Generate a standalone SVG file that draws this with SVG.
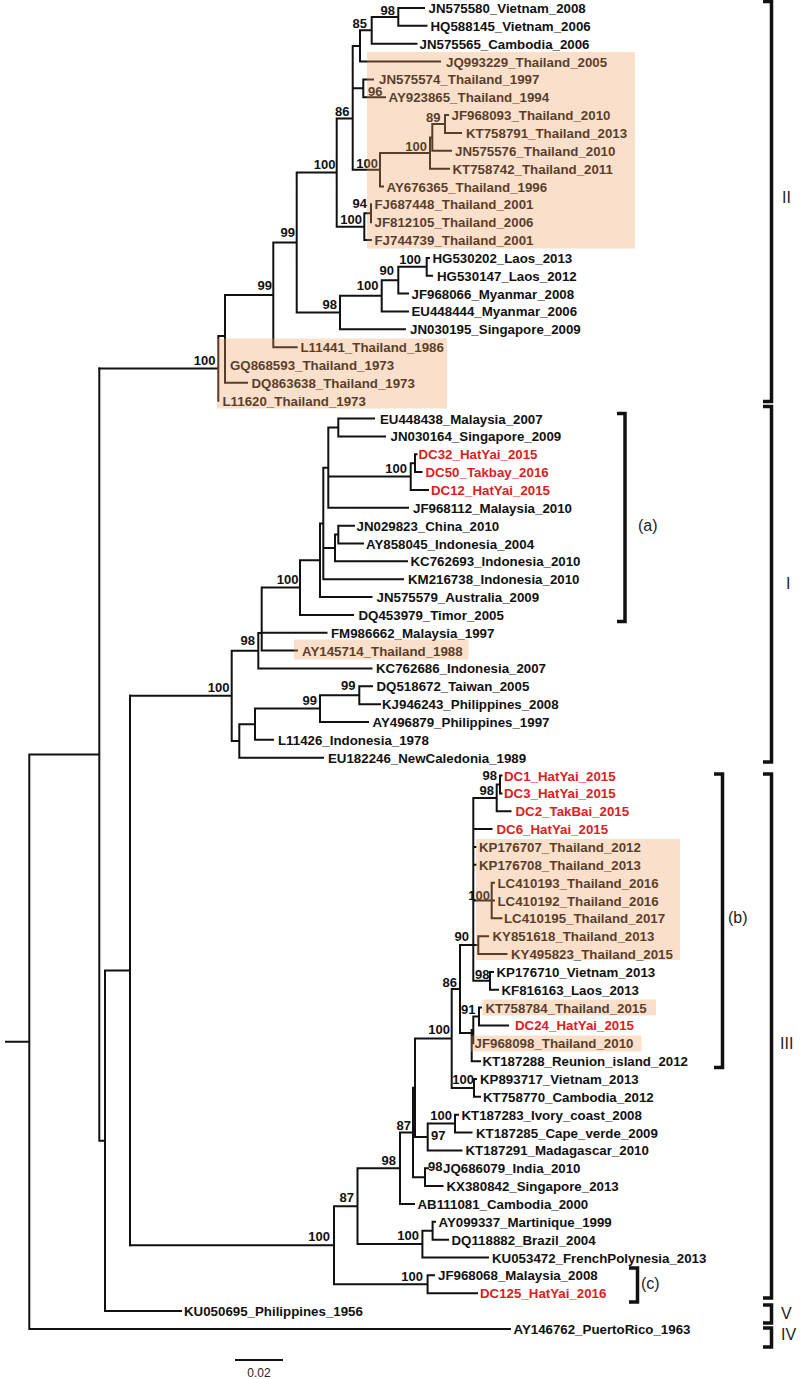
<svg xmlns="http://www.w3.org/2000/svg" width="800" height="1379" viewBox="0 0 800 1379">
<style>
.t{font-family:"Liberation Sans",Arial,sans-serif;font-size:13.3px;font-weight:bold;fill:#111}
.r{fill:#dd2020}
.b{font-family:"Liberation Sans",Arial,sans-serif;font-size:13px;font-weight:bold;fill:#111;text-anchor:end}
.s{text-anchor:start}
.e{fill:none;stroke:#111;stroke-width:2;stroke-linecap:square}
.br{fill:none;stroke:#111;stroke-width:3.5}
.lab{font-family:"Liberation Sans",Arial,sans-serif;font-size:16px;fill:#222}
.hl{fill:#f09a5e;opacity:0.32}
</style>
<rect width="800" height="1379" fill="#fff"/>
<g id="connectors" class="e">
<path d="M398.3 8V25.85M398.3 8H424M398.3 25.85H426.5M371.7 16.9V43.7M371.7 16.9H398.3M371.7 43.7H416.5M360 30.3V61.55M360 30.3H371.7M360 61.55H440M363.3 79.4V97.25M363.3 79.4H373M363.3 97.25H385M352.7 45.9V169.75M352.7 45.9H360M352.7 88.3H363.3M352.7 169.75H380M445 115.1V132.95M445 115.1H448M445 132.95H461M432.3 124V150.8M432.3 124H445M432.3 150.8H451M430 137.4V168.65M430 137.4H432.3M430 168.65H449M380 153V186.5M380 153H430M380 186.5H383M371 204.35V222.2M364.3 213.3V240.05M364.3 213.3H371M364.3 240.05H371M336.7 118.5V226.7M336.7 118.5H352.7M336.7 226.7H364.3M426.7 257.9V275.75M426.7 257.9H429M426.7 275.75H432M398.3 266.8V293.6M398.3 266.8H426.7M398.3 293.6H408M381.7 280.2V311.45M381.7 280.2H398.3M381.7 311.45H408M340 295.8V329.3M340 295.8H381.7M340 329.3H405M296.7 172.6V312.6M296.7 172.6H336.7M296.7 312.6H340M273.3 242.6V347.15M273.3 242.6H296.7M273.3 347.15H296.7M225 294.9V382.85M225 294.9H273.3M225 382.85H247M218.3 336V400.7M218.3 336H225M99.3 368.4H218.3"/>
<path d="M338.3 418.55V436.4M338.3 418.55H374M338.3 436.4H385M415 454.25V472.1M415 454.25H416.5M415 472.1H421.5M410.7 463.2V489.95M410.7 463.2H415M410.7 489.95H428M328.3 427.5V507.8M328.3 427.5H338.3M328.3 476.6H410.7M328.3 507.8H408M338.3 525.65V543.5M338.3 525.65H354M338.3 543.5H363M335 534.6V561.35M335 534.6H338.3M335 561.35H407M323.3 467.7V579.2M323.3 467.7H328.3M323.3 548H335M323.3 579.2H403M320 523.5V597.05M320 523.5H323.3M320 597.05H371.5M300 560.3V614.9M300 560.3H320M300 614.9H353M261.7 587.6V650.6M261.7 587.6H300M261.7 632.75H326.5M261.7 650.6H297M258.3 633V668.45M258.3 633H261.7M258.3 668.45H371.5M359.3 686.3V704.15M359.3 686.3H372M359.3 704.15H380M320 695.2V722M320 695.2H359.3M320 722H368M255 708.6V739.85M255 708.6H320M255 739.85H273M239.3 724.2V757.7M239.3 724.2H255M239.3 757.7H323M231.7 650.7V741M231.7 650.7H258.3M231.7 741H239.3M130 695.8H231.7"/>
<path d="M500 775.55V793.4M500 775.55H501.5M500 793.4H501.5M496.7 784.5V811.25M496.7 784.5H500M496.7 811.25H510.5M473.3 797.9V980.8M473.3 797.9H496.7M473.3 829.1H491.5M473.3 846.95H475.5M473.3 864.8H475.5M473.3 900.5H491.7M473.3 945.1H478.3M473.3 980.8H490M491.7 882.65V918.35M491.7 882.65H494M491.7 900.5H494M491.7 918.35H501.5M478.3 936.2V954.05M478.3 936.2H488M478.3 954.05H506.5M490 971.9V989.75M490 971.9H493M490 989.75H498M460 945.1V1033M460 945.1H473.3M460 1033H471.7M479 1007.6V1025.45M479 1007.6H481M479 1025.45H508M473.3 1016.5V1043.3M473.3 1016.5H479M471.7 1030V1061.15M471.7 1030H473.3M471.7 1061.15H480M474 1079V1096.85M474 1079H476M474 1096.85H480M451.7 989V1088M451.7 989H460M451.7 1088H474M455 1114.7V1132.55M455 1114.7H458M455 1132.55H471.5M427.7 1123.6V1150.4M427.7 1123.6H455M427.7 1150.4H461.5M415 1038.5V1137M415 1038.5H451.7M415 1137H427.7M425 1168.25V1186.1M425 1168.25H428M425 1186.1H442.5M413 1087.75V1177.2M413 1087.75H415M413 1177.2H425M400 1132.5V1203.95M400 1132.5H413M400 1203.95H414M432.6 1221.8V1239.65M432.6 1221.8H435M432.6 1239.65H448M422.4 1230.7V1257.5M422.4 1230.7H432.6M422.4 1257.5H488M357.5 1168.2V1244.1M357.5 1168.2H400M357.5 1244.1H422.4M427.6 1275.35V1293.2M427.6 1275.35H434M427.6 1293.2H477M334 1206.2V1284.3M334 1206.2H357.5M334 1284.3H427.6M130 1245.2H334"/>
<path d="M130 695.8V1245.2M105 970.5H130M105 970.5V1311.05M105 1311.05H181M99.3 368.4V1140.8M99.3 1140.8H105M29.3 754.6H99.3M29.3 754.6V1328.9M29.3 1328.9H510M6 1041.7H29.3"/>
</g>
<g id="leaves" class="t">
<g id="leaf-JN575580"><text x="428.5" y="13">JN575580_Vietnam_2008</text></g>
<g id="leaf-HQ588145"><text x="430.5" y="30.85">HQ588145_Vietnam_2006</text></g>
<g id="leaf-JN575565"><text x="419.5" y="48.7">JN575565_Cambodia_2006</text></g>
<g id="leaf-JQ993229"><text x="446" y="66.55">JQ993229_Thailand_2005</text></g>
<g id="leaf-JN575574"><text x="379" y="84.4">JN575574_Thailand_1997</text></g>
<g id="leaf-AY923865"><text x="388.5" y="102.25">AY923865_Thailand_1994</text></g>
<g id="leaf-JF968093"><text x="451.5" y="120.1">JF968093_Thailand_2010</text></g>
<g id="leaf-KT758791"><text x="466" y="137.95">KT758791_Thailand_2013</text></g>
<g id="leaf-JN575576"><text x="455" y="155.8">JN575576_Thailand_2010</text></g>
<g id="leaf-KT758742"><text x="452.5" y="173.65">KT758742_Thailand_2011</text></g>
<g id="leaf-AY676365"><text x="386.5" y="191.5">AY676365_Thailand_1996</text></g>
<g id="leaf-FJ687448"><text x="374.5" y="209.35">FJ687448_Thailand_2001</text></g>
<g id="leaf-JF812105"><text x="374.5" y="227.2">JF812105_Thailand_2006</text></g>
<g id="leaf-FJ744739"><text x="374.5" y="245.05">FJ744739_Thailand_2001</text></g>
<g id="leaf-HG530202"><text x="432.5" y="262.9">HG530202_Laos_2013</text></g>
<g id="leaf-HG530147"><text x="437" y="280.75">HG530147_Laos_2012</text></g>
<g id="leaf-JF968066"><text x="411.5" y="298.6">JF968066_Myanmar_2008</text></g>
<g id="leaf-EU448444"><text x="411.5" y="316.45">EU448444_Myanmar_2006</text></g>
<g id="leaf-JN030195"><text x="410" y="334.3">JN030195_Singapore_2009</text></g>
<g id="leaf-L11441"><text x="300.5" y="352.15">L11441_Thailand_1986</text></g>
<g id="leaf-GQ868593"><text x="230" y="370">GQ868593_Thailand_1973</text></g>
<g id="leaf-DQ863638"><text x="251.5" y="387.85">DQ863638_Thailand_1973</text></g>
<g id="leaf-L11620"><text x="222.5" y="405.7">L11620_Thailand_1973</text></g>
<g id="leaf-EU448438"><text x="380" y="423.55">EU448438_Malaysia_2007</text></g>
<g id="leaf-JN030164"><text x="390.5" y="441.4">JN030164_Singapore_2009</text></g>
<g id="leaf-DC32"><text class="r" x="418.5" y="459.25">DC32_HatYai_2015</text></g>
<g id="leaf-DC50"><text class="r" x="425.5" y="477.1">DC50_Takbay_2016</text></g>
<g id="leaf-DC12"><text class="r" x="431" y="494.95">DC12_HatYai_2015</text></g>
<g id="leaf-JF968112"><text x="413" y="512.8">JF968112_Malaysia_2010</text></g>
<g id="leaf-JN029823"><text x="356.5" y="530.65">JN029823_China_2010</text></g>
<g id="leaf-AY858045"><text x="366" y="548.5">AY858045_Indonesia_2004</text></g>
<g id="leaf-KC762693"><text x="410.5" y="566.35">KC762693_Indonesia_2010</text></g>
<g id="leaf-KM216738"><text x="408" y="584.2">KM216738_Indonesia_2010</text></g>
<g id="leaf-JN575579"><text x="376.5" y="602.05">JN575579_Australia_2009</text></g>
<g id="leaf-DQ453979"><text x="358.5" y="619.9">DQ453979_Timor_2005</text></g>
<g id="leaf-FM986662"><text x="331" y="637.75">FM986662_Malaysia_1997</text></g>
<g id="leaf-AY145714"><text x="302" y="655.6">AY145714_Thailand_1988</text></g>
<g id="leaf-KC762686"><text x="376" y="673.45">KC762686_Indonesia_2007</text></g>
<g id="leaf-DQ518672"><text x="376.5" y="691.3">DQ518672_Taiwan_2005</text></g>
<g id="leaf-KJ946243"><text x="382" y="709.15">KJ946243_Philippines_2008</text></g>
<g id="leaf-AY496879"><text x="372.5" y="727">AY496879_Philippines_1997</text></g>
<g id="leaf-L11426"><text x="278" y="744.85">L11426_Indonesia_1978</text></g>
<g id="leaf-EU182246"><text x="328" y="762.7">EU182246_NewCaledonia_1989</text></g>
<g id="leaf-DC1"><text class="r" x="504" y="780.55">DC1_HatYai_2015</text></g>
<g id="leaf-DC3"><text class="r" x="504" y="798.4">DC3_HatYai_2015</text></g>
<g id="leaf-DC2"><text class="r" x="515.5" y="816.25">DC2_TakBai_2015</text></g>
<g id="leaf-DC6"><text class="r" x="496.5" y="834.1">DC6_HatYai_2015</text></g>
<g id="leaf-KP176707"><text x="479" y="851.95">KP176707_Thailand_2012</text></g>
<g id="leaf-KP176708"><text x="479" y="869.8">KP176708_Thailand_2013</text></g>
<g id="leaf-LC410193"><text x="497.5" y="887.65">LC410193_Thailand_2016</text></g>
<g id="leaf-LC410192"><text x="497.5" y="905.5">LC410192_Thailand_2016</text></g>
<g id="leaf-LC410195"><text x="504" y="923.35">LC410195_Thailand_2017</text></g>
<g id="leaf-KY851618"><text x="492.5" y="941.2">KY851618_Thailand_2013</text></g>
<g id="leaf-KY495823"><text x="511" y="959.05">KY495823_Thailand_2015</text></g>
<g id="leaf-KP176710"><text x="496.5" y="976.9">KP176710_Vietnam_2013</text></g>
<g id="leaf-KF816163"><text x="501.5" y="994.75">KF816163_Laos_2013</text></g>
<g id="leaf-KT758784"><text x="485.5" y="1012.6">KT758784_Thailand_2015</text></g>
<g id="leaf-DC24"><text class="r" x="515" y="1030.45">DC24_HatYai_2015</text></g>
<g id="leaf-JF968098"><text x="474.5" y="1048.3">JF968098_Thailand_2010</text></g>
<g id="leaf-KT187288"><text x="482.5" y="1066.15">KT187288_Reunion_island_2012</text></g>
<g id="leaf-KP893717"><text x="480" y="1084">KP893717_Vietnam_2013</text></g>
<g id="leaf-KT758770"><text x="483" y="1101.85">KT758770_Cambodia_2012</text></g>
<g id="leaf-KT187283"><text x="461.5" y="1119.7">KT187283_Ivory_coast_2008</text></g>
<g id="leaf-KT187285"><text x="476" y="1137.55">KT187285_Cape_verde_2009</text></g>
<g id="leaf-KT187291"><text x="465.5" y="1155.4">KT187291_Madagascar_2010</text></g>
<g id="leaf-JQ686079"><text x="443" y="1173.25">JQ686079_India_2010</text></g>
<g id="leaf-KX380842"><text x="446.5" y="1191.1">KX380842_Singapore_2013</text></g>
<g id="leaf-AB111081"><text x="417.5" y="1208.95">AB111081_Cambodia_2000</text></g>
<g id="leaf-AY099337"><text x="438.5" y="1226.8">AY099337_Martinique_1999</text></g>
<g id="leaf-DQ118882"><text x="451.5" y="1244.65">DQ118882_Brazil_2004</text></g>
<g id="leaf-KU053472"><text x="492" y="1262.5">KU053472_FrenchPolynesia_2013</text></g>
<g id="leaf-JF968068"><text x="438" y="1280.35">JF968068_Malaysia_2008</text></g>
<g id="leaf-DC125"><text class="r" x="480" y="1298.2">DC125_HatYai_2016</text></g>
<g id="leaf-KU050695"><text x="184" y="1316.05">KU050695_Philippines_1956</text></g>
<g id="leaf-AY146762"><text x="513.5" y="1333.9">AY146762_PuertoRico_1963</text></g>
</g>
<g id="bootstrap" class="b">
<text x="395" y="14.5">98</text>
<text x="367" y="28">85</text>
<text class="s" x="368" y="95.5">96</text>
<text x="349.5" y="116">86</text>
<text x="440.5" y="121.5">89</text>
<text x="427" y="150.5">100</text>
<text x="378" y="167.5">100</text>
<text x="335.5" y="168.5">100</text>
<text x="367" y="208">94</text>
<text x="362" y="224">100</text>
<text x="295" y="237">99</text>
<text x="421" y="263.5">100</text>
<text x="394" y="275">90</text>
<text x="378.5" y="290">100</text>
<text x="337" y="309">98</text>
<text x="272" y="290">99</text>
<text x="215.5" y="364.5">100</text>
<text x="407" y="473">100</text>
<text x="298.5" y="584">100</text>
<text x="255" y="645">98</text>
<text x="229.5" y="691.5">100</text>
<text x="355.5" y="690">99</text>
<text x="317" y="704.5">99</text>
<text x="497" y="779.5">98</text>
<text x="494" y="795">98</text>
<text x="490" y="899.5">100</text>
<text x="469" y="941">90</text>
<text x="457" y="986.5">86</text>
<text x="489.5" y="979">98</text>
<text x="475.5" y="1014">91</text>
<text x="450" y="1034">100</text>
<text x="474" y="1084">100</text>
<text x="452" y="1120">100</text>
<text class="s" x="431" y="1140">97</text>
<text x="411" y="1130">87</text>
<text class="s" x="428" y="1171">98</text>
<text x="396" y="1165">98</text>
<text x="354" y="1201.5">87</text>
<text x="419" y="1240">100</text>
<text x="330" y="1240.5">100</text>
<text x="423" y="1281">100</text>
</g>
<g id="highlights">
<rect class="hl" x="367" y="52" width="268" height="196.5"/>
<rect class="hl" x="217" y="338.5" width="230" height="70"/>
<rect class="hl" x="294" y="639.5" width="174.5" height="20"/>
<rect class="hl" x="476" y="839" width="204" height="121"/>
<rect class="hl" x="482.5" y="999.5" width="173.5" height="16"/>
<rect class="hl" x="471" y="1035.5" width="170.5" height="16"/>
</g>
<g id="brackets">
<path class="br" d="M763 1.5H771.5V401.5H763"/>
<path class="br" d="M763 406.5H771.5V762H763"/>
<path class="br" d="M763 774H771.5V1298H763"/>
<path class="br" d="M763 1305H771.5V1323H763"/>
<path class="br" d="M763 1328H771.5V1347H763"/>
<path class="br" d="M617 413.5H625V621.5H617"/>
<path class="br" d="M714 774H722.5V1067.5H714"/>
<path class="br" d="M629 1268H637.5V1302H629"/>
<text class="lab" x="782" y="203">II</text>
<text class="lab" x="786" y="589">I</text>
<text class="lab" x="780" y="1049">III</text>
<text class="lab" x="781" y="1319">V</text>
<text class="lab" x="781" y="1340">IV</text>
<text class="lab" x="638" y="531">(a)</text>
<text class="lab" x="728" y="923">(b)</text>
<text class="lab" x="641" y="1289">(c)</text>
</g>
<g id="scale-bar">
<path class="e" d="M236 1360H282"/>
<text x="259" y="1377" text-anchor="middle" style="font-family:'Liberation Sans',Arial,sans-serif;font-size:12px;fill:#222">0.02</text>
</g>
</svg>
